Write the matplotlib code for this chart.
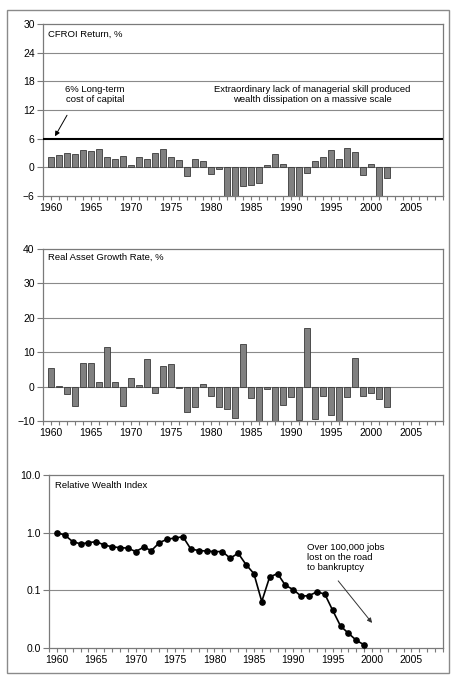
import matplotlib
matplotlib.use("Agg")
import matplotlib.pyplot as plt
from matplotlib.patches import Rectangle
from matplotlib.ticker import FixedLocator, FixedFormatter, NullFormatter

plt.rcParams['font.family'] = ['Liberation Sans', 'DejaVu Sans']

years_bar = list(range(1960, 2003))
cfroi = [2.1, 2.6, 3.1, 2.8, 3.6, 3.5, 3.8, 2.2, 1.8, 2.4,
         0.5, 2.2, 1.8, 2.9, 3.9, 2.2, 1.6, -1.8, 1.7, 1.3,
         -1.5, -0.4, -6.8, -6.8, -4.0, -3.6, -3.2, 0.5, 2.7, 0.7,
         -6.8, -6.8, -1.1, 1.3, 2.1, 3.7, 1.8, 4.0, 3.2, -1.6,
         0.6, -6.8, -2.3]
asset_growth = [5.5, 0.3, -2.2, -5.7, 6.8, 7.0, 1.2, 11.5, 1.4, -5.7,
                2.4, 0.5, 8.1, -1.9, 5.9, 6.5, -0.3, -7.3, -5.8, 0.7,
                -2.8, -6.0, -6.6, -9.1, 12.4, -3.4, -11.0, -0.6, -11.0, -5.3,
                -3.1, -9.8, 16.9, -9.4, -2.8, -8.3, -11.0, -3.1, 8.2, -2.8,
                -2.0, -3.7, -6.0]
years_wealth = list(range(1960, 2000))
wealth = [1.0, 0.91, 0.70, 0.64, 0.67, 0.70, 0.61, 0.57, 0.55, 0.54,
          0.47, 0.56, 0.49, 0.67, 0.77, 0.81, 0.85, 0.52, 0.49, 0.48,
          0.47, 0.47, 0.36, 0.44, 0.28, 0.195, 0.064, 0.17, 0.195, 0.122,
          0.103, 0.079, 0.081, 0.094, 0.086, 0.045, 0.024, 0.018, 0.0136, 0.0113]

cfroi_ticks = [-6, 0, 6, 12, 18, 24, 30]
asset_ticks = [-10, 0, 10, 20, 30, 40]
wealth_ticks = [0.01, 0.1, 1.0, 10.0]
wealth_ticklabels = ["0.0", "0.1", "1.0", "10.0"]
year_labels = list(range(1960, 2006, 5))

W, H = 463, 679
fig = plt.figure(figsize=(W / 100, H / 100), dpi=100)

GRID = '#8a8a8a'
SPINE = '#7a7a7a'
BAR = '#808080'
FS = 7.5
TFS = 6.8

def fr(x0, y0, x1, y1):
    return [x0 / W, 1 - y1 / H, (x1 - x0) / W, (y1 - y0) / H]

def style_x(ax):
    ax.set_xlim(1959, 2009)
    ax.xaxis.set_major_locator(FixedLocator(year_labels))
    ax.xaxis.set_minor_locator(FixedLocator(list(range(1959, 2010))))
    ax.set_xticklabels([str(y) for y in year_labels], fontsize=FS)
    ax.tick_params(axis='x', which='both', direction='out', length=3,
                   width=0.8, color=SPINE, pad=2)
    ax.tick_params(axis='y', which='both', direction='out', length=4,
                   width=0.8, color=SPINE, labelsize=FS, pad=2)
    for s in ax.spines.values():
        s.set_color(SPINE)
        s.set_linewidth(0.9)

# Panel 1
ax1 = fig.add_axes(fr(43, 24, 443, 196))
for t in cfroi_ticks[1:-1]:
    if t != 6:
        ax1.axhline(t, color=GRID, lw=0.8, zorder=1)
ax1.axhline(6, color='black', lw=1.5, zorder=3)
ax1.bar(years_bar, cfroi, width=0.75, color=BAR, edgecolor='#3a3a3a', lw=0.6, zorder=2)
ax1.set_ylim(-6, 30)
ax1.set_yticks(cfroi_ticks)
style_x(ax1)
ax1.text(0.0125, 0.942, "CFROI Return, %", transform=ax1.transAxes,
         fontsize=TFS, ha='left', va='center')
ax1.text(1965.5, 15.2, "6% Long-term\ncost of capital", fontsize=TFS,
         ha='center', va='center', linespacing=1.1)
ax1.text(1992.7, 15.2, "Extraordinary lack of managerial skill produced\nwealth dissipation on a massive scale",
         fontsize=TFS, ha='center', va='center', linespacing=1.1)
ax1.annotate("", xy=(1960.5, 6.5), xytext=(1962.0, 10.9),
             arrowprops=dict(arrowstyle='-|>', color='black', lw=0.7,
                             mutation_scale=7, shrinkA=0, shrinkB=0))

# Panel 2
ax2 = fig.add_axes(fr(43, 249, 443, 421))
for t in asset_ticks[1:-1]:
    ax2.axhline(t, color=GRID, lw=0.8, zorder=1)
ax2.bar(years_bar, asset_growth, width=0.75, color=BAR, edgecolor='#3a3a3a', lw=0.6, zorder=2)
ax2.set_ylim(-10, 40)
ax2.set_yticks(asset_ticks)
style_x(ax2)
ax2.text(0.0125, 0.953, "Real Asset Growth Rate, %", transform=ax2.transAxes,
         fontsize=TFS, ha='left', va='center')

# Panel 3
ax3 = fig.add_axes(fr(49, 475, 443, 648))
ax3.set_yscale('log')
ax3.set_ylim(0.01, 10)
for t in wealth_ticks[1:-1]:
    ax3.axhline(t, color=GRID, lw=0.8, zorder=1)
ax3.plot(years_wealth, wealth, color='black', lw=1.2, marker='o', ms=3.8, zorder=3)
ax3.yaxis.set_major_locator(FixedLocator(wealth_ticks))
ax3.yaxis.set_major_formatter(FixedFormatter(wealth_ticklabels))
ax3.yaxis.set_minor_locator(FixedLocator([]))
ax3.yaxis.set_minor_formatter(NullFormatter())
style_x(ax3)
ax3.text(0.015, 0.942, "Relative Wealth Index", transform=ax3.transAxes,
         fontsize=TFS, ha='left', va='center')
ax3.text(1991.7, 0.375, "Over 100,000 jobs\nlost on the road\nto bankruptcy",
         fontsize=TFS, ha='left', va='center', linespacing=1.15)
ax3.annotate("", xy=(2000.0, 0.0272), xytext=(1995.7, 0.146),
             arrowprops=dict(arrowstyle='-|>', color='#333333', lw=0.7,
                             mutation_scale=7, shrinkA=0, shrinkB=0))

# Outer frame
fig.patches.append(Rectangle((7 / W, 1 - 673 / H), (449 - 7) / W, (673 - 10) / H,
                             transform=fig.transFigure, fill=False,
                             edgecolor='#8a8a8a', lw=1.0))

fig.savefig("out.png", dpi=100)
